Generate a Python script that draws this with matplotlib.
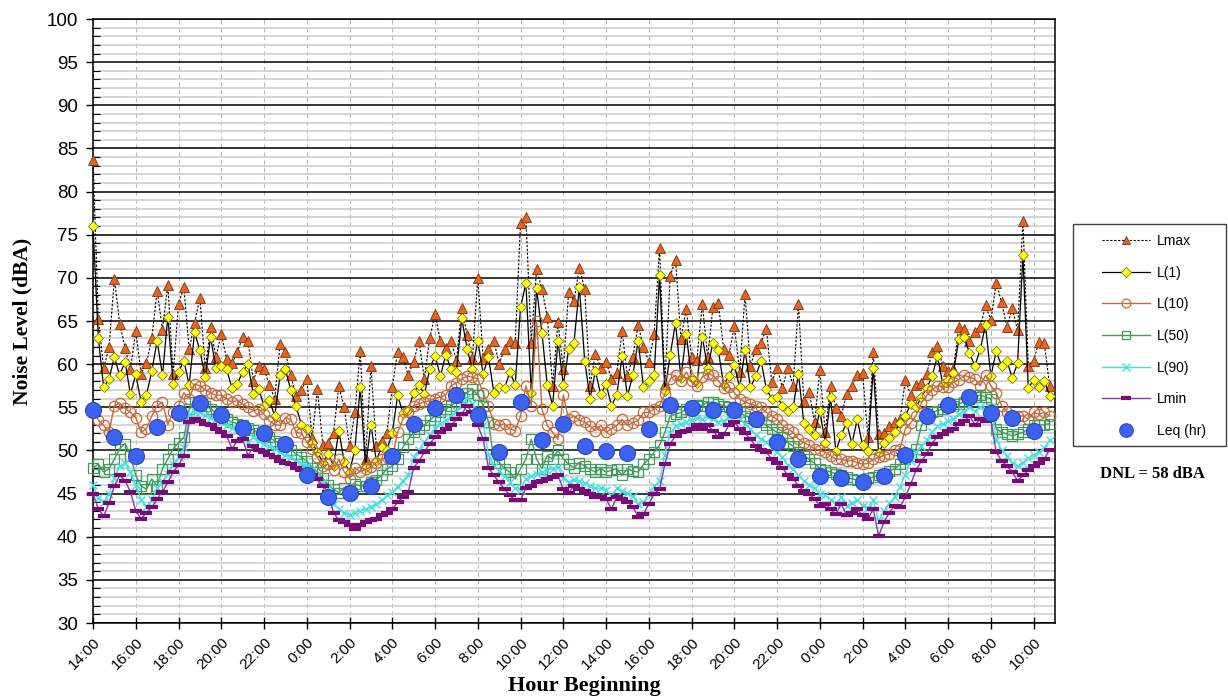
import numpy as np
import matplotlib
matplotlib.use("Agg")
from matplotlib import pyplot as plt
from matplotlib.patches import Rectangle
from matplotlib.ticker import MultipleLocator

# 15-minute levels, 14:00 day 1 to 10:45 day 3 (4 values per hour)
LMAX = [
    83.7, 65.2, 59.5, 62.0, 69.9, 64.7, 61.9, 59.4, 63.8, 58.9, 60.1, 63.0,
    68.5, 64.0, 69.2, 58.8, 67.0, 68.9, 61.7, 64.8, 67.7, 59.5, 64.3, 60.8,
    63.5, 60.6, 60.1, 61.4, 63.1, 62.7, 58.1, 59.8, 59.4, 57.6, 56.0, 62.3,
    61.4, 58.7, 56.3, 57.0, 58.3, 51.4, 57.1, 50.6, 50.9, 52.0, 57.5, 55.0,
    50.5, 54.4, 61.5, 49.0, 59.8, 50.5, 51.1, 52.0, 57.4, 61.4, 60.8, 58.7,
    60.3, 62.7, 58.3, 63.0, 65.8, 62.7, 61.9, 62.7, 60.4, 66.5, 63.4, 60.7,
    70.0, 60.6, 61.8, 62.7, 60.0, 61.8, 62.7, 62.5, 76.4, 77.0, 62.5, 71.0,
    68.7, 65.5, 57.5, 64.9, 59.4, 68.4, 67.3, 71.2, 68.7, 57.5, 61.2, 59.6,
    60.3, 58.3, 59.0, 63.8, 58.6, 60.8, 64.5, 62.0, 60.3, 63.5, 73.5, 57.7,
    70.2, 72.1, 62.9, 66.4, 60.8, 60.5, 67.0, 60.8, 66.6, 67.1, 61.7, 61.1,
    64.4, 59.1, 68.1, 59.8, 61.7, 62.5, 64.1, 57.9, 59.6, 57.2, 59.6, 57.5,
    67.0, 55.7, 56.8, 53.3, 59.3, 52.1, 57.5, 54.9, 54.0, 56.5, 57.5, 58.7,
    59.0, 51.5, 61.4, 51.9, 52.0, 52.8, 53.3, 53.6, 58.2, 56.4, 57.6, 57.8,
    58.9, 61.4, 62.1, 59.8, 59.2, 59.4, 64.3, 64.1, 62.7, 63.7, 64.3, 66.8,
    65.1, 69.4, 67.2, 64.3, 66.5, 63.9, 76.6, 59.8, 60.4, 62.6, 62.4, 57.5,
]
L1 = [
    76.0, 63.0, 57.3, 58.3, 60.8, 58.7, 60.3, 56.5, 58.8, 55.6, 56.4, 59.2,
    62.7, 58.7, 65.5, 57.7, 59.1, 60.4, 57.6, 63.7, 61.6, 58.5, 63.1, 59.6,
    59.8, 59.4, 57.2, 57.7, 59.1, 60.0, 56.5, 57.1, 55.2, 55.8, 54.0, 58.7,
    59.4, 57.0, 55.1, 53.0, 52.5, 50.9, 49.8, 48.6, 49.6, 48.2, 52.3, 48.7,
    47.5, 50.1, 57.3, 48.1, 53.0, 48.8, 50.4, 50.1, 52.0, 56.4, 54.3, 54.7,
    56.7, 57.6, 56.5, 59.4, 61.0, 58.6, 61.1, 59.4, 59.1, 65.3, 61.8, 59.4,
    62.7, 58.9, 60.8, 56.7, 57.3, 57.2, 59.1, 57.6, 66.6, 69.4, 56.7, 68.8,
    63.6, 57.6, 55.2, 62.7, 57.6, 61.7, 62.5, 68.9, 60.4, 56.0, 59.2, 56.5,
    57.7, 55.2, 56.4, 60.9, 56.3, 58.7, 62.7, 57.3, 58.0, 58.7, 70.3, 56.9,
    61.1, 64.8, 58.4, 63.5, 58.4, 57.8, 63.2, 59.5, 62.5, 61.6, 57.6, 58.6,
    59.9, 57.3, 61.6, 57.3, 58.6, 60.4, 57.1, 56.0, 56.2, 55.2, 54.6, 55.0,
    58.9, 53.2, 52.5, 51.8, 54.6, 50.9, 56.2, 49.9, 51.8, 53.2, 50.8, 53.6,
    50.6, 49.9, 59.6, 49.7, 50.9, 51.4, 52.1, 53.2, 54.0, 55.4, 55.0, 56.2,
    57.2, 58.6, 60.9, 57.7, 58.2, 59.0, 62.9, 63.1, 61.3, 59.8, 61.7, 64.5,
    58.6, 61.5, 59.8, 60.4, 58.4, 60.1, 72.6, 57.2, 58.2, 57.4, 58.1, 56.3,
]
L10 = [
    54.9, 53.5, 52.9, 52.1, 55.2, 55.5, 54.9, 54.4, 53.8, 52.1, 52.5, 54.0,
    55.2, 55.6, 53.0, 54.5, 55.2, 56.7, 56.0, 57.7, 57.5, 57.0, 56.7, 56.4,
    56.4, 56.0, 55.6, 55.8, 55.4, 55.0, 54.6, 54.8, 54.2, 53.4, 53.0, 52.9,
    53.8, 53.6, 52.1, 52.0, 51.0, 50.2, 49.2, 48.2, 48.4, 47.7, 49.0, 47.5,
    46.7, 48.0, 47.5, 47.8, 48.1, 48.6, 49.0, 49.2, 49.2, 52.1, 53.6, 54.4,
    55.2, 55.4, 55.6, 55.8, 56.0, 56.2, 56.4, 57.5, 57.8, 58.3, 58.6, 58.5,
    58.3, 56.7, 55.2, 53.1, 52.9, 53.1, 52.5, 52.3, 54.0, 57.5, 55.2, 65.0,
    54.8, 52.9, 52.1, 51.3, 56.4, 53.6, 54.0, 53.5, 53.3, 52.8, 52.3, 52.9,
    52.1, 52.5, 52.9, 53.6, 52.9, 53.2, 53.5, 54.4, 54.4, 54.8, 55.2, 56.5,
    58.3, 58.7, 58.0, 59.1, 58.0, 57.5, 58.5, 58.9, 58.7, 58.1, 57.2, 57.4,
    56.7, 56.0, 55.6, 55.4, 55.2, 55.0, 54.4, 54.0, 53.6, 52.9, 52.5, 52.1,
    51.3, 50.9, 50.6, 50.2, 50.0, 49.8, 49.4, 49.0, 49.0, 48.8, 48.8, 48.6,
    48.4, 48.5, 49.0, 49.2, 49.4, 49.6, 50.0, 50.2, 52.5, 53.2, 54.0, 55.5,
    56.4, 57.0, 57.5, 57.4, 57.3, 57.9, 58.2, 58.7, 58.5, 58.3, 57.5, 58.7,
    57.5, 56.7, 55.2, 54.5, 53.8, 54.0, 54.0, 53.6, 54.4, 54.2, 54.4, 54.0,
]
L50 = [
    48.0, 48.4, 47.5, 47.9, 49.0, 50.2, 50.8, 49.4, 47.1, 45.9, 45.5, 46.7,
    45.9, 47.9, 49.0, 50.2, 50.9, 51.5, 54.8, 55.6, 55.6, 55.2, 54.8, 54.4,
    54.0, 53.6, 53.3, 53.1, 52.9, 52.6, 52.4, 52.0, 51.7, 51.5, 51.1, 50.9,
    50.6, 50.1, 49.6, 49.2, 48.8, 48.0, 47.5, 46.8, 46.0, 45.5, 45.1, 45.7,
    45.3, 46.1, 45.9, 45.9, 46.3, 46.6, 47.1, 47.9, 48.2, 49.0, 50.4, 51.3,
    52.1, 52.5, 52.9, 53.5, 54.0, 54.4, 54.8, 55.2, 55.6, 56.2, 56.7, 57.1,
    56.4, 55.2, 53.3, 49.0, 48.6, 47.9, 47.5, 46.7, 47.9, 49.0, 51.3, 49.0,
    47.9, 49.4, 49.0, 50.0, 49.0, 48.4, 48.0, 48.6, 48.2, 47.8, 47.5, 47.9,
    47.5, 47.7, 47.9, 47.1, 47.9, 47.6, 47.5, 48.4, 49.0, 49.8, 50.6, 52.1,
    54.0, 54.2, 54.4, 54.8, 55.2, 55.3, 55.2, 55.6, 55.6, 55.4, 55.2, 55.0,
    54.6, 54.4, 54.0, 53.8, 53.6, 53.3, 52.9, 52.5, 52.1, 51.6, 50.9, 50.5,
    49.8, 49.4, 49.0, 48.5, 47.9, 47.7, 47.5, 47.3, 47.1, 46.9, 46.7, 46.6,
    46.6, 46.8, 46.9, 47.1, 47.3, 47.6, 47.9, 48.4, 49.0, 49.4, 50.2, 52.9,
    53.8, 54.4, 54.6, 54.8, 55.0, 55.2, 55.4, 55.6, 56.0, 56.2, 56.4, 56.2,
    56.0, 52.5, 52.1, 51.9, 51.7, 51.9, 52.1, 52.5, 52.9, 52.9, 53.0, 53.1,
]
L90 = [
    46.0, 44.5, 44.0, 45.0, 46.8, 48.2, 48.5, 47.5, 46.0, 44.3, 43.5, 44.2,
    45.6, 46.4, 47.3, 48.4, 49.2, 50.3, 54.2, 54.5, 54.4, 54.1, 53.8, 53.6,
    53.3, 53.0, 52.6, 52.2, 52.0, 51.0, 51.5, 51.1, 50.8, 50.5, 50.2, 49.8,
    49.5, 49.2, 48.8, 48.5, 48.2, 47.8, 47.2, 46.3, 45.6, 43.8, 43.2, 42.8,
    42.5, 42.8, 43.0, 43.2, 43.5, 43.8, 44.2, 44.8, 45.2, 45.8, 46.5, 47.2,
    49.2, 50.0, 51.0, 51.8, 52.6, 53.1, 53.5, 53.9, 54.6, 55.2, 56.1, 55.4,
    54.2, 53.0, 49.5, 48.2, 47.6, 47.0, 46.3, 45.6, 45.4, 46.7, 47.0, 47.3,
    47.5, 47.7, 47.9, 48.1, 46.8, 46.3, 46.6, 46.4, 46.2, 45.9, 45.6, 45.6,
    45.4, 44.8, 45.6, 45.3, 45.1, 44.7, 43.8, 44.0, 44.9, 45.9, 46.5, 49.5,
    52.0, 52.8, 53.1, 53.3, 53.5, 53.8, 53.6, 53.9, 53.6, 53.3, 53.4, 53.9,
    54.2, 53.6, 53.1, 52.5, 51.8, 51.3, 51.0, 50.3, 49.8, 49.2, 48.3, 47.8,
    47.1, 46.5, 46.0, 45.6, 45.0, 44.8, 44.3, 43.8, 44.6, 43.6, 43.9, 44.2,
    43.6, 43.3, 44.2, 41.8, 43.0, 43.9, 44.6, 45.8, 47.2, 48.8, 49.8, 50.5,
    51.2, 52.1, 52.8, 53.1, 53.4, 53.7, 54.2, 54.5, 55.0, 54.6, 55.0, 54.8,
    55.0, 51.2, 50.0, 49.4, 48.6, 48.2, 48.6, 49.1, 49.5, 49.8, 50.3, 51.2,
]
LMIN = [
    45.0, 43.2, 42.4, 43.9, 45.9, 47.1, 46.5, 45.2, 43.0, 42.1, 42.8, 43.4,
    44.4, 45.2, 46.3, 47.5, 48.3, 49.4, 53.3, 53.6, 53.4, 53.1, 52.9, 52.5,
    52.1, 51.7, 50.2, 51.1, 51.3, 49.4, 50.5, 50.0, 49.8, 49.5, 49.2, 48.8,
    48.6, 48.4, 48.0, 47.7, 47.5, 47.1, 46.7, 45.9, 45.2, 42.8, 41.9, 41.7,
    41.3, 40.9, 41.3, 41.7, 41.9, 42.1, 42.5, 42.8, 43.2, 44.0, 44.6, 45.2,
    48.0, 48.8, 49.8, 50.8, 51.5, 52.1, 52.5, 52.9, 53.6, 54.2, 55.2, 54.4,
    52.9, 51.3, 48.0, 47.1, 46.3, 45.5, 44.8, 44.2, 44.2, 45.7, 45.9, 46.3,
    46.5, 46.7, 46.9, 47.1, 45.5, 45.1, 45.9, 45.5, 45.3, 44.9, 44.6, 44.6,
    44.4, 43.2, 44.6, 44.4, 44.0, 43.5, 42.3, 42.6, 43.8, 45.0, 45.5, 48.4,
    50.8, 51.7, 52.1, 52.3, 52.5, 52.9, 52.5, 52.9, 52.3, 51.5, 51.9, 52.9,
    53.3, 52.5, 52.0, 51.3, 50.5, 50.0, 49.8, 49.0, 48.5, 48.0, 47.1, 46.7,
    45.9, 45.3, 44.9, 44.4, 43.6, 43.8, 43.2, 42.6, 43.8, 42.5, 42.8, 43.2,
    42.5, 42.1, 43.2, 40.1, 41.7, 42.8, 43.6, 43.4, 44.6, 46.1, 47.7, 48.8,
    49.6, 50.8, 51.6, 51.9, 52.3, 52.5, 53.1, 53.4, 54.0, 53.0, 53.6, 53.4,
    53.6, 49.8, 48.8, 48.2, 47.5, 46.5, 47.1, 47.7, 48.2, 48.6, 49.0, 50.1,
]
# hourly Leq, plotted at the start of each hour
LEQ = [
    54.7, 51.6, 49.3, 52.7, 54.3, 55.5, 54.1, 52.6, 52.0, 50.8, 47.2, 44.6,
    45.1, 45.9, 49.3, 53.1, 54.9, 56.4, 54.1, 49.8, 55.6, 51.2, 53.1, 50.5,
    49.9, 49.7, 52.5, 55.3, 54.9, 54.7, 54.7, 53.6, 51.0, 49.0, 47.0, 46.8,
    46.3, 47.0, 49.5, 54.0, 55.3, 56.2, 54.3, 53.8, 52.3,
]
TICK_LABELS = [
    "14:00", "16:00", "18:00", "20:00", "22:00", "0:00", "2:00", "4:00",
    "6:00", "8:00", "10:00", "12:00", "14:00", "16:00", "18:00", "20:00",
    "22:00", "0:00", "2:00", "4:00", "6:00", "8:00", "10:00",
]

SANS = "Liberation Sans"
SERIF = "Liberation Serif"

t = np.arange(len(LMAX)) * 0.25
t_hr = np.arange(len(LEQ))

W, H = 1228, 698
fig = plt.figure(figsize=(W / 100, H / 100), dpi=100)
ax = fig.add_axes([93 / W, 1 - 623 / H, (1055 - 93) / W, (623 - 19) / H])

ax.plot(t, LMAX, color="black", ls=(0, (2, 1.5)), lw=0.8, marker="^", ms=7.5,
        mfc="#e8641e", mec="#7a3510", mew=0.6, label="Lmax", zorder=3, clip_on=False)
ax.plot(t, L1, color="black", lw=0.9, marker="D", ms=5.5,
        mfc="#ffff1a", mec="#7c7c00", mew=0.6, label="L(1)", zorder=4, clip_on=False)
ax.plot(t, L10, color="#c46a3a", lw=1.0, marker="o", ms=7.5,
        mfc="none", mec="#c46a3a", mew=0.9, label="L(10)", zorder=5, clip_on=False)
ax.plot(t, L50, color="#3f9c5a", lw=1.0, marker="s", ms=6.5,
        mfc="none", mec="#3f9c5a", mew=0.9, label="L(50)", zorder=6, clip_on=False)
ax.plot(t, L90, color="#45e0e0", lw=1.0, marker="x", ms=6,
        mec="#45e0e0", mew=1.0, label="L(90)", zorder=7, clip_on=False)
ax.plot(t, LMIN, color="#8a3a9a", lw=1.0, marker="_", ms=9,
        mec="#7a0a7a", mew=3, label="Lmin", zorder=8, clip_on=False)
ax.plot(t_hr, LEQ, ls="none", marker="o", ms=11.5,
        mfc="#3b62f0", mec="#2a48c0", mew=0.8, label="Leq (hr)", zorder=9, clip_on=False)

ax.set_xlim(0, 45)
ax.set_ylim(30, 100)
ax.set_xticks(np.arange(0, 45, 2))
ax.set_xticklabels(TICK_LABELS, rotation=45, ha="right", rotation_mode="anchor",
                   fontsize=11, fontfamily=SANS)
ax.set_yticks(np.arange(30, 101, 5))
ax.yaxis.set_minor_locator(MultipleLocator(1))
for lab in ax.get_yticklabels():
    lab.set_fontfamily(SANS)
    lab.set_fontsize(13.5)

ax.grid(which="minor", axis="y", color="#d2d2d2", lw=1.3)
ax.grid(which="major", axis="y", color="black", lw=1.1)
ax.grid(which="major", axis="x", color="#b8b8b8", lw=0.8, ls=(0, (4, 3)))
ax.set_axisbelow(True)

ax.tick_params(axis="y", which="major", direction="out", length=5, width=1, pad=6)
ax.tick_params(axis="y", which="minor", direction="in", length=5, width=0.8)
ax.tick_params(axis="x", which="major", direction="inout", length=9, width=1, pad=4)
for side in ["left", "bottom", "top", "right"]:
    ax.spines[side].set_color("black")
    ax.spines[side].set_linewidth(1.1)

fig.text(22 / W, 1 - 321 / H, "Noise Level (dBA)", rotation=90, ha="center",
         va="center", fontfamily=SERIF, fontweight="bold", fontsize=15.5)
fig.text(584 / W, 1 - 686 / H, "Hour Beginning", ha="center", va="center",
         fontfamily=SERIF, fontweight="bold", fontsize=16)

# legend without its own frame; the box is drawn separately to match the wide left margin
fig.legend(loc="upper left", bbox_to_anchor=(1102 / W, 1 - 234 / H),
           prop={"family": SANS, "size": 10}, frameon=False,
           labelspacing=1.27, handlelength=3.45, handletextpad=0.5,
           borderpad=0, markerscale=0.85, borderaxespad=0)
fig.patches.append(Rectangle((1073 / W, 1 - 446 / H), 153 / W, 222 / H,
                             transform=fig.transFigure, fill=False,
                             edgecolor="#404040", lw=1.0))

fig.text(1152 / W, 1 - 474 / H, "DNL = 58 dBA", ha="center", va="center",
         fontfamily=SERIF, fontweight="bold", fontsize=12)

fig.savefig("out.png", dpi=100)
